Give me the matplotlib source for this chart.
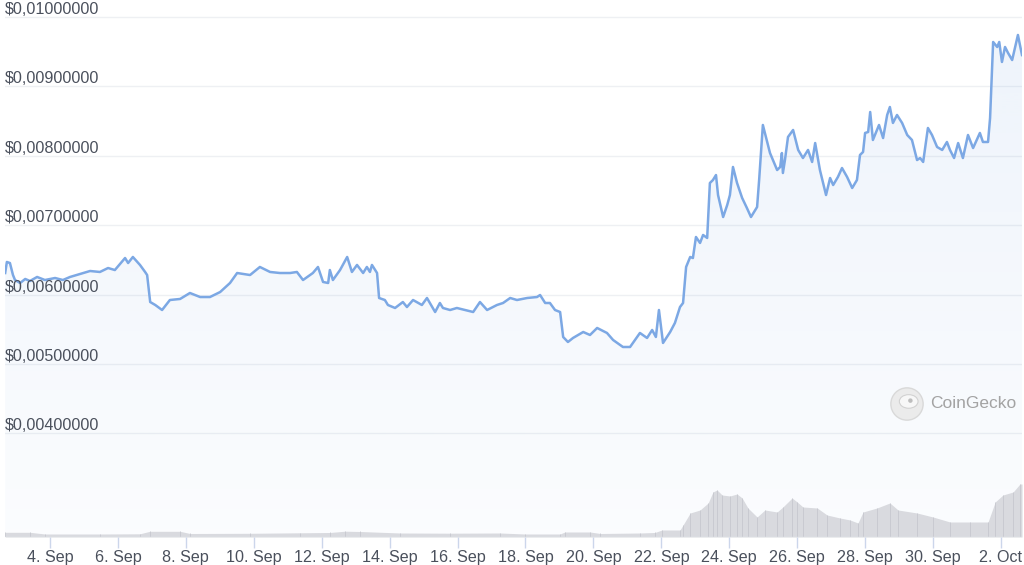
import matplotlib
matplotlib.use("Agg")
import matplotlib.pyplot as plt
import numpy as np
from matplotlib.patches import Circle, Ellipse

# price, x = day of September (Oct 2 = 32)
price_day = [
    2.68, 2.73, 2.82, 2.91, 2.97, 3.12, 3.27, 3.41, 3.62, 3.85, 4.15, 4.38, 4.59,
    4.88, 5.18, 5.47, 5.71, 5.91, 6.06, 6.21, 6.30, 6.44, 6.65, 6.80, 6.86, 6.95,
    7.10, 7.30, 7.53, 7.83, 8.12, 8.42, 8.71, 9.01, 9.30, 9.51, 9.89, 10.18, 10.48,
    10.77, 11.07, 11.27, 11.45, 11.74, 11.89, 12.04, 12.19, 12.24, 12.33, 12.54,
    12.75, 12.89, 13.04, 13.22, 13.33, 13.42, 13.48, 13.63, 13.69, 13.86, 13.95,
    14.16, 14.39, 14.51, 14.69, 14.95, 15.10, 15.34, 15.48, 15.57, 15.78, 15.98,
    16.22, 16.46, 16.66, 16.87, 17.16, 17.34, 17.55, 17.75, 18.05, 18.34, 18.43,
    18.58, 18.72, 18.87, 19.02, 19.11, 19.25, 19.40, 19.70, 19.90, 20.11, 20.40,
    20.58, 20.87, 21.08, 21.37, 21.58, 21.73, 21.84, 21.93, 22.05, 22.26, 22.40,
    22.55, 22.64, 22.73, 22.85, 22.93, 23.02, 23.14, 23.23, 23.35, 23.43, 23.52,
    23.61, 23.67, 23.82, 23.94, 24.02, 24.11, 24.23, 24.38, 24.52, 24.64, 24.82,
    24.88, 24.99, 25.05, 25.20, 25.41, 25.50, 25.55, 25.58, 25.64, 25.73, 25.88,
    25.94, 26.03, 26.17, 26.32, 26.44, 26.53, 26.67, 26.85, 26.97, 27.06, 27.20,
    27.32, 27.47, 27.62, 27.76, 27.85, 27.94, 28.00, 28.09, 28.15, 28.23, 28.41,
    28.53, 28.65, 28.73, 28.82, 28.94, 29.09, 29.24, 29.38, 29.53, 29.62, 29.71,
    29.85, 29.97, 30.12, 30.27, 30.41, 30.50, 30.62, 30.74, 30.88, 31.03, 31.18,
    31.38, 31.47, 31.62, 31.68, 31.77, 31.89, 31.95, 32.03, 32.12, 32.21, 32.33,
    32.42, 32.50, 32.62,
]
price_mils = [  # price in thousandths of a dollar
    6.311, 6.470, 6.455, 6.282, 6.210, 6.167, 6.225, 6.196, 6.254, 6.210, 6.239,
    6.210, 6.254, 6.297, 6.340, 6.326, 6.383, 6.354, 6.441, 6.527, 6.455, 6.542,
    6.427, 6.326, 6.282, 5.893, 5.850, 5.778, 5.922, 5.937, 6.023, 5.965, 5.965,
    6.037, 6.167, 6.311, 6.282, 6.398, 6.326, 6.311, 6.311, 6.326, 6.210, 6.311,
    6.398, 6.182, 6.167, 6.354, 6.210, 6.354, 6.542, 6.326, 6.427, 6.311, 6.398,
    6.326, 6.427, 6.311, 5.951, 5.922, 5.850, 5.807, 5.893, 5.821, 5.922, 5.850,
    5.951, 5.749, 5.879, 5.807, 5.778, 5.807, 5.778, 5.749, 5.893, 5.778, 5.850,
    5.879, 5.951, 5.922, 5.951, 5.965, 5.994, 5.879, 5.879, 5.778, 5.749, 5.389,
    5.317, 5.375, 5.461, 5.418, 5.519, 5.447, 5.346, 5.245, 5.245, 5.447, 5.375,
    5.490, 5.389, 5.778, 5.303, 5.461, 5.591, 5.821, 5.879, 6.398, 6.542, 6.527,
    6.830, 6.744, 6.859, 6.816, 7.608, 7.651, 7.723, 7.435, 7.118, 7.291, 7.435,
    7.839, 7.608, 7.392, 7.248, 7.118, 7.262, 7.651, 8.444, 8.329, 8.040, 7.795,
    7.839, 8.040, 7.752, 7.939, 8.271, 8.372, 8.256, 8.084, 7.968, 8.084, 7.911,
    8.184, 7.795, 7.435, 7.680, 7.579, 7.695, 7.824, 7.695, 7.536, 7.651, 8.012,
    8.055, 8.329, 8.343, 8.631, 8.228, 8.444, 8.256, 8.588, 8.703, 8.473, 8.588,
    8.473, 8.300, 8.228, 7.939, 7.968, 7.911, 8.401, 8.300, 8.127, 8.084, 8.199,
    8.084, 7.968, 8.184, 7.968, 8.300, 8.112, 8.329, 8.199, 8.199, 8.545, 9.640,
    9.568, 9.640, 9.352, 9.568, 9.481, 9.380, 9.568, 9.741, 9.452,
]
vol_day = [
    2.68, 3.41, 3.85, 5.47, 6.65, 6.94, 7.83, 8.12, 9.89, 11.36, 12.24, 12.69,
    13.13, 14.31, 15.78, 17.25, 17.99, 19.02, 19.16, 19.90, 20.20, 21.37, 21.81,
    22.02, 22.55, 22.64, 22.85, 23.14, 23.38, 23.52, 23.64, 23.79, 24.02, 24.23,
    24.38, 24.55, 24.82, 25.05, 25.41, 25.58, 25.85, 26.00, 26.17, 26.59, 26.88,
    27.26, 27.56, 27.79, 27.94, 28.35, 28.73, 28.97, 29.53, 30.00, 30.50, 31.09,
    31.62, 31.83, 32.06, 32.36, 32.56, 32.62,
]
vol_value = [
    4.7, 4.7, 3.0, 3.0, 3.2, 5.7, 5.7, 3.5, 3.7, 4.2, 4.5, 5.8, 5.5, 4.0, 3.8,
    4.0, 3.0, 3.0, 5.0, 5.0, 3.5, 4.0, 4.5, 7.0, 7.0, 12, 24, 27, 34, 45, 47, 42,
    41, 43, 39, 29, 20, 27, 25, 30, 39, 35, 30, 29, 22, 19, 17, 14, 25, 29, 34,
    27, 24, 20, 15, 15, 15, 35, 42, 45, 53, 53,
]
grid_prices = [0.004, 0.005, 0.006, 0.007, 0.008, 0.009, 0.010]
x_ticks = [4, 6, 8, 10, 12, 14, 16, 18, 20, 22, 24, 26, 28, 30, 32]
x_labels = ["4. Sep", "6. Sep", "8. Sep", "10. Sep", "12. Sep", "14. Sep",
            "16. Sep", "18. Sep", "20. Sep", "22. Sep", "24. Sep", "26. Sep",
            "28. Sep", "30. Sep", "2. Oct"]

FONT = "Liberation Sans"
TXT = "#4a505c"
LINE = "#7ca8e4"
FS = 11.6

W, H = 1024, 565
fig = plt.figure(figsize=(W / 100, H / 100), dpi=100)
rect = [5 / W, (H - 537) / H, 1017 / W, 537 / H]
ax = fig.add_axes(rect)
axv = fig.add_axes(rect, sharex=ax)
axv.patch.set_alpha(0)

x = np.array(price_day)
y = np.array(price_mils) / 1000.0
x0, x1 = 2.675, 32.62
y0, y1 = 0.002507, 0.010245
ax.set_xlim(x0, x1)
ax.set_ylim(y0, y1)

# gradient area under the price line
grad = np.linspace(0.03, 0.13, 256)
rgba = np.zeros((256, 1, 4))
rgba[..., 0], rgba[..., 1], rgba[..., 2] = 124 / 255, 168 / 255, 228 / 255
rgba[:, 0, 3] = grad
poly = ax.fill_between(x, y, y0, color="none", lw=0)
im = ax.imshow(rgba, extent=[x0, x1, y0, 0.0098], origin="lower",
               aspect="auto", zorder=1)
im.set_clip_path(poly.get_paths()[0], transform=ax.transData)

for gp in grid_prices:
    ax.axhline(gp, color="#eef0f3", lw=1, zorder=0)
    ax.text(0, gp, f"${gp:.8f}".replace(".", ","), transform=ax.get_yaxis_transform(),
            ha="left", va="bottom", fontsize=FS, color=TXT, family=FONT, zorder=4)
ax.plot(x, y, color=LINE, lw=1.8, zorder=3, solid_joinstyle="round")

# volume
axv.set_ylim(0, max(vol_value) * 10.13)
axv.fill_between(vol_day, vol_value, 0, color="#d9dadf", lw=0, zorder=1)
axv.vlines(vol_day, 0, vol_value, color="#c6c8cf", lw=0.6, zorder=2)
axv.axhline(0, color="#e3e6ee", lw=1)

for a in (ax, axv):
    for s in a.spines.values():
        s.set_visible(False)
    a.set_yticks([])
ax.tick_params(axis="x", labelbottom=False, length=0)
axv.set_xticks(x_ticks)
axv.set_xticklabels(x_labels, fontsize=FS, color=TXT, family=FONT)
axv.tick_params(axis="x", length=8, width=1, color="#ccd6eb", pad=1.5)

# CoinGecko watermark
cx, cy = 907 / W, 1 - 404 / H
logo = fig.add_axes([cx - 17 / W, cy - 17 / H, 34 / W, 34 / H])
logo.set_xlim(-1, 1)
logo.set_ylim(-1, 1)
logo.set_aspect("equal")
logo.axis("off")
logo.add_patch(Circle((0, 0), 0.95, facecolor="#ebebeb", edgecolor="#d9d9d9", lw=1))
logo.add_patch(Ellipse((0.1, 0.15), 1.1, 0.8, facecolor="#f7f7f7", edgecolor="#d2d2d2", lw=0.8))
logo.add_patch(Circle((0.2, 0.2), 0.09, color="#bdbdbd"))
fig.text(930 / W, cy, "CoinGecko", ha="left", va="center", fontsize=12.5,
         color="#a3a3a3", family=FONT)

fig.savefig("out.png", dpi=100, facecolor="white")
